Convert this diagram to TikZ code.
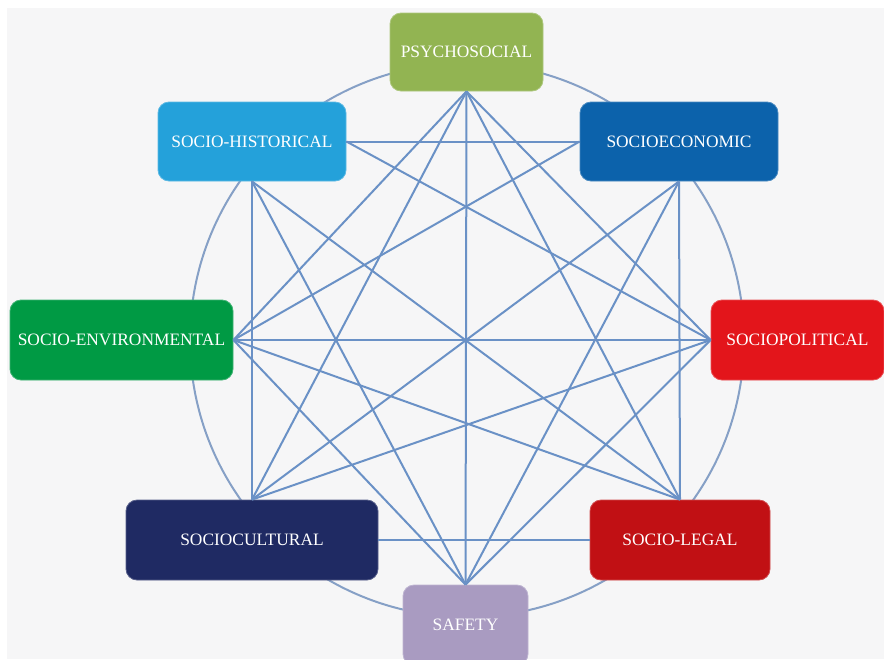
\documentclass[tikz,border=0pt]{standalone}
\usepackage{fontspec}
\setmainfont{Liberation Serif}
\definecolor{bgpage}{HTML}{F6F6F7}
\definecolor{psyc}{HTML}{92B452}
\definecolor{hist}{HTML}{24A1DA}
\definecolor{econ}{HTML}{0C62AB}
\definecolor{envi}{HTML}{009A44}
\definecolor{poli}{HTML}{E3151B}
\definecolor{cult}{HTML}{1F2A63}
\definecolor{legl}{HTML}{C11014}
\definecolor{safe}{HTML}{A99BC1}
\definecolor{linkc}{HTML}{6A91C6}
\definecolor{ringc}{HTML}{86A0C6}

\begin{document}
\begin{tikzpicture}[x=1pt,y=-1pt,
  box/.style={fill=#1,draw=#1!75!white,line width=.8pt,rounded corners=11pt,text=white,
    font=\fontsize{17.4}{20}\selectfont,inner sep=0pt},
  link/.style={linkc,line width=2pt},
  ring/.style={ringc,line width=2pt}]
\useasboundingbox (0,0) rectangle (884,659);
\clip (0,0) rectangle (884,659);
\fill[white] (0,0) rectangle (884,659); \fill[bgpage] (7,8) rectangle (884,659);
\draw[ring] (467,340) circle (277pt);
\node[box=psyc,minimum width=153pt,minimum height=78pt] (psy) at (466.5,52) {PSYCHOSOCIAL};
\node[box=hist,minimum width=188pt,minimum height=79pt] (his) at (252,141.5) {SOCIO-HISTORICAL};
\node[box=econ,minimum width=198pt,minimum height=79pt] (eco) at (679,141.5) {SOCIOECONOMIC};
\node[box=envi,minimum width=223pt,minimum height=80pt] (env) at (121.5,340) {SOCIO-ENVIRONMENTAL};
\node[box=poli,minimum width=173pt,minimum height=80pt] (pol) at (797.5,340) {SOCIOPOLITICAL};
\node[box=cult,minimum width=252pt,minimum height=80pt] (cul) at (252,540) {SOCIOCULTURAL};
\node[box=legl,minimum width=180pt,minimum height=80pt] (leg) at (680,540) {SOCIO-LEGAL};
\node[box=safe,minimum width=125pt,minimum height=80pt] (saf) at (465.5,625) {SAFETY};
% chords between the non-neighbouring boxes
\foreach \a/\b in {psy.south/env.east,psy.south/cul.north,psy.south/saf.north,psy.south/leg.north,psy.south/pol.west,
  his.east/eco.west,his.east/pol.west,his.south/cul.north,his.south/saf.north,his.south/leg.north,
  eco.west/env.east,eco.south/cul.north,eco.south/saf.north,eco.south/leg.north,
  env.east/pol.west,env.east/leg.north,env.east/saf.north,pol.west/cul.north,pol.west/saf.north,cul.east/leg.west}
  \draw[link] (\a) -- (\b);
\end{tikzpicture}
\end{document}
